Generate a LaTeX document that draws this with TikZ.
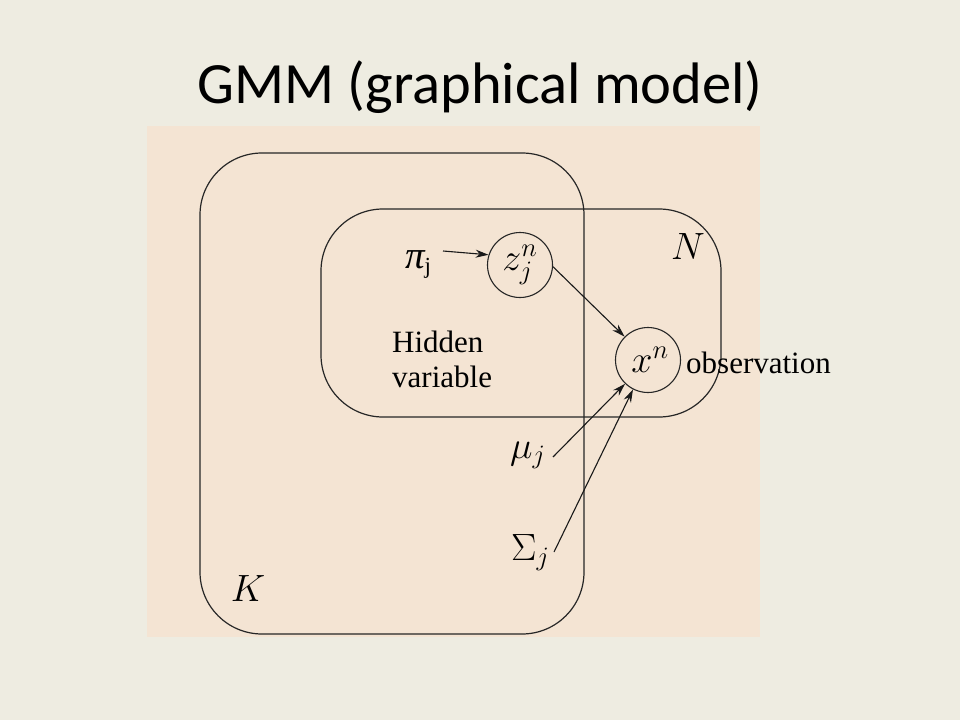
\RequirePackage{fix-cm}
\documentclass[tikz,border=0pt]{standalone}
\usepackage{fontspec}
\setmainfont{Liberation Serif}
\newfontfamily\titlefont{Carlito}
\usetikzlibrary{arrows.meta}
\definecolor{slidebg}{HTML}{EEECE1}
\definecolor{peach}{HTML}{F4E4D3}
\begin{document}
\begin{tikzpicture}[x=1pt,y=-1pt,
  plate/.style={draw=black!85,line width=1.2pt,rounded corners=62pt},
  var/.style={circle,draw=black!85,line width=1.1pt,minimum size=65pt,inner sep=0pt,font=\fontsize{38}{40}\selectfont},
  mathlbl/.style={inner sep=0pt,font=\fontsize{38}{40}\selectfont},
  txt/.style={inner sep=0pt,font=\fontsize{31}{35}\selectfont},
  arr/.style={draw=black!90,line width=1.1pt,-{Stealth[length=13pt,width=8pt]}}]
\useasboundingbox (0,0) rectangle (960,720);
\fill[slidebg] (0,0) rectangle (960,720);
\fill[peach] (147,126) rectangle (760,637);
\node[anchor=base,inner sep=0pt,font=\titlefont\fontsize{58.5}{60}\selectfont] (title) at (480,103) {GMM (graphical model)};
% plates
\draw[plate] (200,153) rectangle (584,634);
\draw[plate] (321,209) rectangle (721,417);
% variables
\node[var] (z) at (520,265) {$z_j^n$};
\node[var] (x) at (648,360) {\hspace{4pt}$x^n$};
% labels
\node[mathlbl,anchor=center] (N) at (688,247) {$N$};
\node[mathlbl,anchor=center] (K) at (248,589) {$K$};
\node[mathlbl,anchor=base west] (mu) at (510,458) {$\mu_j$};
\node[mathlbl,anchor=base west] (sig) at (511,560) {$\Sigma_j$};
\node[txt,anchor=base west] (pi) at (405,268) {{\fontsize{39}{40}\selectfont\itshape π}\raisebox{-5pt}{\fontsize{23}{24}\selectfont j}};
\node[txt,anchor=base west] (hid1) at (392,352) {Hidden};
\node[txt,anchor=base west] (hid2) at (392,387) {variable};
\node[txt,anchor=base west] (obs) at (686,373) {observation};
% arrows
\coordinate (pis) at (443,251);
\coordinate (mus) at (553,457);
\coordinate (sigs) at (554,552);
\draw[arr] (pis) -- (z.162);
\draw[arr] (z.-3) -- (x.135);
\draw[arr] (mus) -- (x.226);
\draw[arr] (sigs) -- (x.243);
\end{tikzpicture}
\end{document}
